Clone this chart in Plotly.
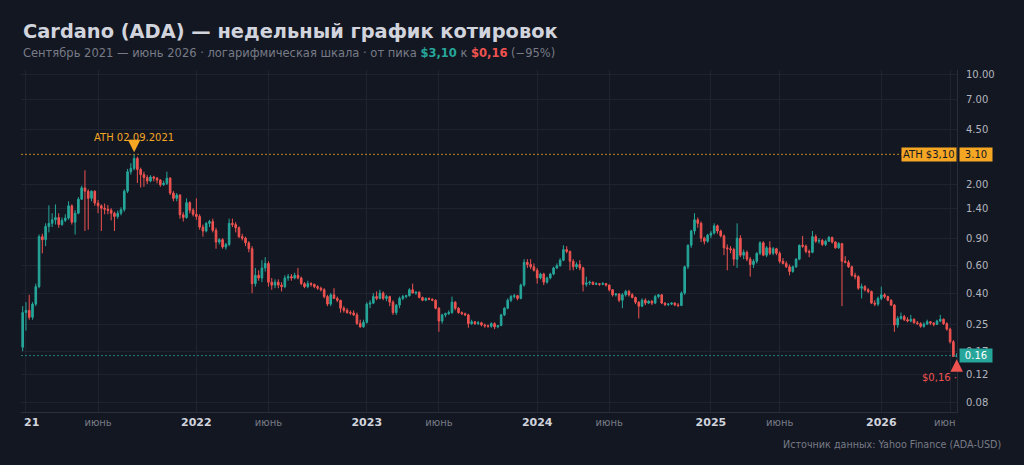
import math
import pandas as pd
import plotly.graph_objects as go

# ---------------- data (weekly candles, ADA-USD) ----------------
week_start = "2020-12-28"
n_weeks = 286
dates = pd.date_range(week_start, periods=n_weeks, freq="7D")

opens = [
    .18, .30, .31, .28, .34, .44, .92, .88, 1.07, 1.12,
    1.18, 1.22, 1.10, 1.17, 1.21, 1.45, 1.14, 1.30, 1.60, 1.89,
    1.80, 1.62, 1.80, 1.51, 1.45, 1.40, 1.38, 1.36, 1.30, 1.24,
    1.30, 1.37, 1.80, 2.40, 2.52, 2.92, 2.48, 2.30, 2.20, 2.09,
    2.22, 2.18, 2.12, 1.98, 2.02, 2.18, 1.75, 1.62, 1.70, 1.27,
    1.22, 1.52, 1.36, 1.28, 1.24, 1.06, 1.00, 1.12, 1.15, 1.01,
    .85, .88, .79, .82, 1.12, 1.10, 1.05, .92, .90, .84,
    .77, .46, .52, .50, .58, .62, .47, .45, .47, .45,
    .44, .50, .51, .50, .52, .50, .46, .44, .46, .455,
    .44, .43, .42, .38, .34, .39, .37, .36, .32, .31,
    .30, .298, .29, .256, .243, .26, .34, .345, .38, .37,
    .40, .37, .38, .35, .30, .335, .37, .38, .385, .42,
    .40, .405, .375, .36, .37, .365, .36, .32, .265, .29,
    .295, .30, .35, .32, .30, .295, .29, .255, .262, .255,
    .258, .25, .247, .245, .255, .243, .248, .29, .32, .36,
    .38, .385, .37, .45, .63, .61, .59, .56, .50, .53,
    .47, .50, .53, .58, .60, .65, .76, .74, .64, .59,
    .61, .58, .455, .465, .47, .455, .46, .455, .46, .45,
    .42, .39, .395, .36, .39, .41, .39, .375, .35, .33,
    .36, .345, .355, .345, .38, .39, .345, .338, .34, .345,
    .336, .333, .40, .59, .81, 1.00, 1.18, 1.12, .90, .86,
    .94, .97, 1.08, 1.00, .93, .78, .77, .76, .66, .90,
    .70, .73, .66, .61, .64, .72, .84, .70, .78, .72,
    .77, .72, .64, .62, .59, .55, .59, .66, .81, .80,
    .74, .73, .92, .86, .87, .82, .86, .91, .85, .78,
    .83, .64, .63, .59, .52, .51, .43, .44, .42, .41,
    .345, .34, .37, .39, .38, .36, .335, .25, .275, .283,
    .27, .265, .272, .258, .255, .245, .253, .262, .257, .252,
    .265, .272, .255, .235, .195, .157,
]

highs = [
    .33, .35, .39, .35, .46, .95, .96, 1.12, 1.46, 1.30,
    1.48, 1.30, 1.22, 1.28, 1.55, 1.48, 1.36, 1.65, 1.95, 2.45,
    1.85, 1.82, 1.82, 1.58, 1.48, 1.50, 1.47, 1.40, 1.33, 1.35,
    1.42, 1.85, 2.50, 2.72, 3.10, 3.00, 2.55, 2.40, 2.28, 2.28,
    2.26, 2.22, 2.15, 2.10, 2.40, 2.22, 1.80, 1.75, 1.72, 1.32,
    1.62, 1.55, 1.40, 1.62, 1.28, 1.10, 1.14, 1.18, 1.20, 1.05,
    .90, .90, .84, 1.20, 1.20, 1.14, 1.07, .96, .92, .86,
    .80, .58, .56, .65, .68, .64, .50, .49, .49, .47,
    .52, .53, .53, .54, .58, .51, .47, .48, .47, .46,
    .45, .44, .43, .39, .40, .43, .38, .36, .33, .32,
    .31, .31, .30, .27, .27, .35, .36, .40, .41, .42,
    .41, .39, .385, .36, .34, .38, .39, .39, .43, .46,
    .41, .41, .38, .375, .375, .37, .365, .325, .295, .30,
    .31, .38, .355, .325, .305, .30, .295, .27, .265, .265,
    .262, .255, .252, .26, .26, .25, .295, .325, .37, .39,
    .395, .39, .46, .66, .66, .66, .62, .58, .54, .54,
    .51, .54, .59, .62, .67, .81, .80, .75, .66, .63,
    .65, .59, .51, .48, .475, .47, .465, .47, .465, .455,
    .425, .40, .40, .40, .42, .42, .40, .38, .355, .37,
    .37, .36, .36, .39, .395, .395, .35, .345, .35, .35,
    .345, .41, .60, .82, 1.02, 1.30, 1.22, 1.15, .92, .96,
    1.00, 1.12, 1.10, 1.02, .95, .82, .80, .78, 1.12, .94,
    .76, .75, .68, .66, .73, .86, .86, .80, .86, .79,
    .78, .74, .67, .64, .61, .60, .67, .82, .93, .82,
    .76, 1.00, .95, .90, .89, .88, .93, .92, .86, .85,
    .84, .69, .65, .60, .54, .52, .46, .45, .43, .415,
    .36, .38, .44, .40, .385, .365, .34, .285, .30, .29,
    .28, .29, .275, .265, .26, .26, .27, .265, .26, .27,
    .29, .275, .26, .24, .20, .165,
]

lows = [
    .17, .23, .27, .27, .33, .43, .72, .80, .98, 1.06,
    1.10, 1.05, 1.08, 1.14, 1.18, 1.10, .95, 1.28, 1.58, 1.00,
    1.02, 1.55, 1.45, 1.30, 1.00, 1.28, 1.28, 1.17, 1.00, 1.20,
    1.26, 1.33, 1.75, 2.30, 2.45, 2.03, 1.90, 1.92, 2.00, 2.05,
    2.08, 2.02, 1.92, 1.95, 1.97, 1.70, 1.55, 1.55, 1.20, 1.15,
    1.20, 1.30, 1.24, 1.18, 1.02, .92, .98, 1.06, .98, .77,
    .82, .77, .76, .80, 1.06, .98, .90, .87, .80, .73,
    .40, .44, .48, .47, .55, .44, .42, .43, .43, .41,
    .43, .48, .48, .49, .49, .45, .43, .43, .44, .43,
    .42, .41, .37, .33, .33, .37, .35, .30, .30, .295,
    .29, .285, .25, .24, .24, .255, .32, .34, .36, .365,
    .36, .355, .33, .29, .29, .32, .36, .37, .38, .40,
    .39, .37, .355, .355, .36, .355, .315, .226, .255, .28,
    .29, .295, .31, .295, .29, .285, .24, .25, .25, .25,
    .245, .24, .24, .24, .235, .238, .245, .285, .315, .35,
    .37, .36, .365, .44, .58, .57, .55, .46, .49, .45,
    .46, .49, .52, .57, .59, .64, .72, .56, .56, .57,
    .56, .41, .44, .45, .45, .45, .445, .45, .44, .41,
    .38, .38, .35, .32, .38, .38, .37, .34, .275, .325,
    .335, .34, .335, .34, .37, .34, .33, .33, .335, .33,
    .325, .33, .39, .57, .78, .95, 1.05, .85, .82, .84,
    .90, .95, .96, .91, .70, .56, .72, .60, .58, .68,
    .66, .64, .51, .58, .62, .70, .69, .68, .70, .70,
    .70, .62, .61, .58, .52, .54, .58, .65, .78, .72,
    .68, .72, .84, .83, .80, .80, .85, .83, .77, .77,
    .33, .62, .58, .51, .49, .42, .37, .41, .40, .34,
    .33, .33, .36, .37, .355, .33, .226, .24, .27, .265,
    .26, .26, .255, .25, .24, .24, .25, .25, .245, .25,
    .26, .25, .23, .19, .156, .155,
]

closes = [
    .30, .31, .28, .34, .44, .92, .88, 1.07, 1.12, 1.18,
    1.22, 1.10, 1.17, 1.21, 1.45, 1.14, 1.30, 1.60, 1.89, 1.80,
    1.62, 1.80, 1.51, 1.45, 1.40, 1.38, 1.36, 1.30, 1.24, 1.30,
    1.37, 1.80, 2.40, 2.52, 2.92, 2.48, 2.30, 2.20, 2.09, 2.22,
    2.18, 2.12, 1.98, 2.02, 2.18, 1.75, 1.62, 1.70, 1.27, 1.22,
    1.52, 1.36, 1.28, 1.24, 1.06, 1.00, 1.12, 1.15, 1.01, .85,
    .88, .79, .82, 1.12, 1.10, 1.05, .92, .90, .84, .77,
    .46, .52, .50, .58, .62, .47, .45, .47, .45, .44,
    .50, .51, .50, .52, .50, .46, .44, .46, .455, .44,
    .43, .42, .38, .34, .39, .37, .36, .32, .31, .30,
    .298, .29, .256, .243, .26, .34, .345, .38, .37, .40,
    .37, .38, .35, .30, .335, .37, .38, .385, .42, .40,
    .405, .375, .36, .37, .365, .36, .32, .265, .29, .295,
    .30, .35, .32, .30, .295, .29, .255, .262, .255, .258,
    .25, .247, .245, .255, .243, .248, .29, .32, .36, .38,
    .385, .37, .45, .63, .61, .59, .56, .50, .53, .47,
    .50, .53, .58, .60, .65, .76, .74, .64, .59, .61,
    .58, .455, .465, .47, .455, .46, .455, .46, .45, .42,
    .39, .395, .36, .39, .41, .39, .375, .35, .33, .36,
    .345, .355, .345, .38, .39, .345, .338, .34, .345, .336,
    .333, .40, .59, .81, 1.00, 1.18, 1.12, .90, .86, .94,
    .97, 1.08, 1.00, .93, .78, .77, .76, .66, .90, .70,
    .73, .66, .61, .64, .72, .84, .70, .78, .72, .77,
    .72, .64, .62, .59, .55, .59, .66, .81, .80, .74,
    .73, .92, .86, .87, .82, .86, .91, .85, .78, .83,
    .64, .63, .59, .52, .51, .43, .44, .42, .41, .345,
    .34, .37, .39, .38, .36, .335, .25, .275, .283, .27,
    .265, .272, .258, .255, .245, .253, .262, .257, .252, .265,
    .272, .255, .235, .195, .157, .159,
]

# axis ticks
y_tick_vals = [0.08, 0.12, 0.17, 0.25, 0.40, 0.60, 0.90, 1.40, 2.00, 4.50, 7.00, 10.00]
y_tick_text = ["0.08", "0.12", "0.17", "0.25", "0.40", "0.60", "0.90", "1.40", "2.00", "4.50", "7.00", "10.00"]

x_tick_dates = ["2021-01-04", "2021-06-07", "2022-01-03", "2022-06-06", "2023-01-02",
                "2023-06-05", "2024-01-01", "2024-06-03", "2025-01-06", "2025-06-02",
                "2026-01-05", "2026-06-01"]
x_tick_labels = ["", "июнь", "2022", "июнь", "2023", "июнь", "2024", "июнь", "2025", "июнь", "2026", ""]

ath_value = 3.10
ath_label = "ATH 02.09.2021"
last_label = "0.16"
low_label = "$0,16 ·"

title_text = "Cardano (ADA) — недельный график котировок"
source_text = "Источник данных: Yahoo Finance (ADA-USD)"

# ---------------- styling ----------------
BG = "#131722"
GRID = "#1f2330"
AXIS = "#2a2e39"
UP = "#26a69a"
DN = "#ef5350"
ORANGE = "#f5a623"
TXT = "#d1d4dc"
MUTED = "#787b86"
FONT = "DejaVu Sans"

x_range = ["2020-12-24 10:00", "2026-06-15 17:00"]
y_range = [-1.160, 1.032]

ath_idx = highs.index(max(highs))
low_idx = lows.index(min(lows))
last_close = closes[-1]


def fmt_tick(label):
    if label.isdigit():
        return "<b>" + label + "</b>"
    if label == "":
        return ""
    return "<span style='color:%s;font-size:10px'>%s</span>" % (MUTED, label)


fig = go.Figure()

fig.add_trace(go.Candlestick(
    x=dates, open=opens, high=highs, low=lows, close=closes,
    increasing=dict(line=dict(color=UP, width=1), fillcolor=UP),
    decreasing=dict(line=dict(color=DN, width=1), fillcolor=DN),
    whiskerwidth=0, hoverinfo="skip", showlegend=False,
))

# ATH and last price dotted lines
fig.add_trace(go.Scatter(
    x=x_range, y=[ath_value, ath_value], mode="lines",
    line=dict(color=ORANGE, width=1, dash="2px,2px"), opacity=0.75,
    hoverinfo="skip", showlegend=False,
))
fig.add_trace(go.Scatter(
    x=x_range, y=[last_close, last_close], mode="lines",
    line=dict(color=UP, width=1, dash="2px,2px"), opacity=0.75,
    hoverinfo="skip", showlegend=False,
))

subtitle = ("Сентябрь 2021 — июнь 2026 · логарифмическая шкала · от пика "
            "<b><span style='color:%s'>$3,10</span></b> к "
            "<b><span style='color:%s'>$0,16</span></b> (−95%%)") % (UP, DN)

annotations = [
    dict(text="<b>" + title_text + "</b>", xref="paper", yref="paper", x=0, y=1,
         xanchor="left", yanchor="middle", xshift=0, yshift=39, showarrow=False,
         font=dict(family=FONT, size=19.4, color=TXT)),
    dict(text=subtitle, xref="paper", yref="paper", x=0, y=1,
         xanchor="left", yanchor="middle", xshift=0, yshift=17, showarrow=False,
         font=dict(family=FONT, size=11.5, color=MUTED)),
    dict(text=source_text, xref="paper", yref="paper", x=1, y=0,
         xanchor="right", yanchor="middle", xshift=46, yshift=-32, showarrow=False,
         font=dict(family=FONT, size=9.6, color=MUTED)),
    # ATH marker
    dict(text=ath_label, x=dates[ath_idx], y=math.log10(highs[ath_idx]),
         xref="x", yref="y", showarrow=True, arrowhead=2, arrowsize=1,
         arrowwidth=2.5, arrowcolor=ORANGE, ax=0, ay=-17, standoff=2,
         font=dict(family=FONT, size=10, color=ORANGE)),
    # ATH badge inside plot
    dict(text="ATH $3,10", xref="paper", x=1, xanchor="right",
         y=math.log10(ath_value), yref="y", yanchor="middle", showarrow=False,
         bgcolor=ORANGE, borderpad=1, font=dict(family=FONT, size=10, color=BG)),
    # ATH badge on axis
    dict(text="3.10", xref="paper", x=1, xanchor="left", xshift=2,
         y=math.log10(ath_value), yref="y", yanchor="middle", showarrow=False,
         bgcolor=ORANGE, borderpad=1, width=30, font=dict(family=FONT, size=10, color=BG)),
    # last price badge
    dict(text=last_label, xref="paper", x=1, xanchor="left", xshift=2,
         y=math.log10(last_close), yref="y", yanchor="middle", showarrow=False,
         bgcolor=UP, borderpad=1, width=30, font=dict(family=FONT, size=10, color="#ffffff")),
    # low marker
    dict(text="", x=dates[low_idx], y=math.log10(lows[low_idx]), xref="x", yref="y",
         showarrow=True, arrowhead=2, arrowsize=1, arrowwidth=2.5, arrowcolor=DN,
         ax=0, ay=11, standoff=2),
    dict(text=low_label, x=dates[low_idx], y=math.log10(lows[low_idx]), xref="x", yref="y",
         xanchor="right", yanchor="middle", xshift=2, yshift=-20, showarrow=False,
         font=dict(family=FONT, size=10, color=DN)),
    # clipped edge labels of the time scale
    dict(text="<b>21</b>", x=x_tick_dates[0], xref="x", xanchor="left", y=0, yref="paper",
         yanchor="middle", yshift=-10, xshift=-4, showarrow=False,
         font=dict(family=FONT, size=11, color=TXT)),
    dict(text="июн", x=1, xref="paper", xanchor="right", y=0, yref="paper",
         yanchor="middle", yshift=-10, showarrow=False,
         font=dict(family=FONT, size=10, color=MUTED)),
]

fig.update_layout(
    width=1024, height=465,
    margin=dict(l=21, r=67, t=70, b=53),
    paper_bgcolor=BG, plot_bgcolor=BG,
    font=dict(family=FONT, color="#b2b5be", size=10),
    showlegend=False, hovermode=False,
    annotations=annotations,
    xaxis=dict(
        type="date", range=x_range, rangeslider=dict(visible=False),
        tickmode="array", tickvals=x_tick_dates, ticktext=[fmt_tick(t) for t in x_tick_labels],
        showgrid=True, gridcolor=GRID, gridwidth=1, zeroline=False,
        showline=True, linecolor=AXIS, linewidth=1, ticks="",
        tickfont=dict(family=FONT, size=11, color=TXT),
    ),
    yaxis=dict(
        type="log", side="right", range=y_range,
        tickmode="array", tickvals=y_tick_vals, ticktext=y_tick_text,
        showgrid=True, gridcolor=GRID, gridwidth=1, zeroline=False,
        showline=True, linecolor=AXIS, linewidth=1, ticks="",
        tickfont=dict(family=FONT, size=10, color="#b2b5be"),
        ticklabelstandoff=6,
    ),
)

fig.write_html("out.html", config={"displayModeBar": False})
